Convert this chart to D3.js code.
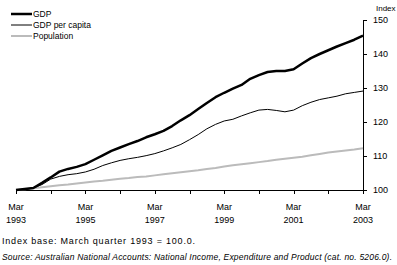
<!DOCTYPE html>
<html>
<head>
<meta charset="utf-8">
<script src="https://cdn.jsdelivr.net/npm/d3@7"></script>
<style>
  body { margin: 0; background: #fff; }
  svg text { font-family: Arial, "Liberation Sans", sans-serif; fill: #000; }
  .axis path, .axis line { stroke: #000; stroke-width: 1; shape-rendering: crispEdges; }
</style>
</head>
<body>
<div id="chart"></div>
<script>
// quarterly, Mar 1993 .. Mar 2003
var startYear = 1993;
var gdp = [100.0, 100.3, 100.6, 102.1, 103.7, 105.4, 106.2, 106.8, 107.6, 108.9,
  110.2, 111.5, 112.5, 113.5, 114.4, 115.5, 116.4, 117.4, 118.8, 120.5,
  122.0, 123.8, 125.6, 127.3, 128.6, 129.8, 130.9, 132.7, 133.8, 134.7,
  135.0, 135.0, 135.5, 137.2, 138.8, 140.0, 141.1, 142.2, 143.2, 144.2, 145.4];
var gdpPerCapita = [100.0, 100.1, 100.6, 101.6, 103.2, 104.0, 104.5, 104.8, 105.3, 106.1,
  107.2, 108.0, 108.7, 109.2, 109.6, 110.1, 110.7, 111.5, 112.4, 113.4,
  114.8, 116.3, 118.0, 119.3, 120.3, 120.8, 121.8, 122.7, 123.5, 123.7,
  123.4, 123.0, 123.5, 124.8, 125.8, 126.6, 127.1, 127.6, 128.3, 128.7, 129.1];
var population = [100.0, 100.2, 100.5, 100.8, 101.1, 101.4, 101.6, 101.9, 102.2, 102.5,
  102.7, 103.0, 103.3, 103.5, 103.8, 104.0, 104.3, 104.6, 104.9, 105.2,
  105.5, 105.8, 106.2, 106.5, 106.9, 107.3, 107.6, 107.9, 108.2, 108.5,
  108.9, 109.2, 109.5, 109.8, 110.2, 110.6, 111.0, 111.3, 111.6, 111.9, 112.3];
var seriesNames = ['GDP', 'GDP per capita', 'Population'];
var yTicks = [100, 110, 120, 130, 140, 150];
var xTickYears = [1993, 1995, 1997, 1999, 2001, 2003];

var W = 397, H = 265,
    x0 = 16, x1 = 363, yTop = 20, yBot = 190;

var svg = d3.select('#chart').append('svg').attr('width', W).attr('height', H);

var t = function(i){ return startYear + i/4; };
var x = d3.scaleLinear().domain([1993, 2003]).range([x0, x1]);
var y = d3.scaleLinear().domain([100, 150]).range([yBot, yTop]);

// x axis: yearly ticks, labels every 2 years
var xAxis = svg.append('g').attr('class','axis').attr('transform','translate(0,'+yBot+')')
  .call(d3.axisBottom(x).tickValues(d3.range(1993, 2004)).tickSize(4).tickSizeOuter(0).tickFormat(''));
xAxis.select('.domain').attr('d', 'M'+x0+',0H'+x1);

var xl = svg.append('g').selectAll('g').data(xTickYears).enter().append('g')
  .attr('transform', function(d){ return 'translate('+x(d)+',0)'; });
xl.append('text').attr('y', 210).attr('text-anchor','middle').attr('font-size', 9).text('Mar');
xl.append('text').attr('y', 223).attr('text-anchor','middle').attr('font-size', 9).text(function(d){ return d; });

// y axis on right
var yAxis = svg.append('g').attr('class','axis').attr('transform','translate('+x1+',0)')
  .call(d3.axisRight(y).tickValues(yTicks).tickSize(4).tickSizeOuter(0).tickPadding(6));
yAxis.selectAll('text').attr('font-size', 9).style('font-family', 'Arial, "Liberation Sans", sans-serif');
yAxis.select('.domain').attr('d', 'M0,'+yTop+'V'+yBot);

svg.append('text').attr('x', 376).attr('y', 11).attr('font-size', 8).text('Index');

// lines
var series = [
  {name: seriesNames[0], values: gdp, color: '#000', w: 2.5},
  {name: seriesNames[1], values: gdpPerCapita, color: '#000', w: 1},
  {name: seriesNames[2], values: population, color: '#bbb', w: 2}
];
var line = d3.line().x(function(d,i){ return x(t(i)); }).y(function(d){ return y(d); });

svg.append('g').selectAll('path').data(series.slice().reverse()).enter().append('path')
  .attr('fill','none')
  .attr('stroke', function(d){ return d.color; })
  .attr('stroke-width', function(d){ return d.w; })
  .attr('stroke-linejoin','round')
  .attr('d', function(d){ return line(d.values); });

// legend
var lg = svg.append('g').selectAll('g').data(series).enter().append('g')
  .attr('transform', function(d,i){ return 'translate(11,'+(14+i*11)+')'; });
lg.append('line').attr('x1',0).attr('x2',21).attr('y1',0).attr('y2',0)
  .attr('stroke', function(d){ return d.color; })
  .attr('stroke-width', function(d){ return d.w; });
lg.append('text').attr('x', 22).attr('y', 3).attr('font-size', 8.5).text(function(d){ return d.name; });

// notes
svg.append('text').attr('x', 2).attr('y', 244).attr('font-size', 9)
  .attr('textLength', 193).attr('lengthAdjust', 'spacing')
  .text('Index base: March quarter 1993 = 100.0.');
svg.append('text').attr('x', 2).attr('y', 260).attr('font-size', 8.5).attr('font-style','italic')
  .attr('textLength', 390).attr('lengthAdjust', 'spacing')
  .text('Source: Australian National Accounts: National Income, Expenditure and Product (cat. no. 5206.0).');
</script>
</body>
</html>
